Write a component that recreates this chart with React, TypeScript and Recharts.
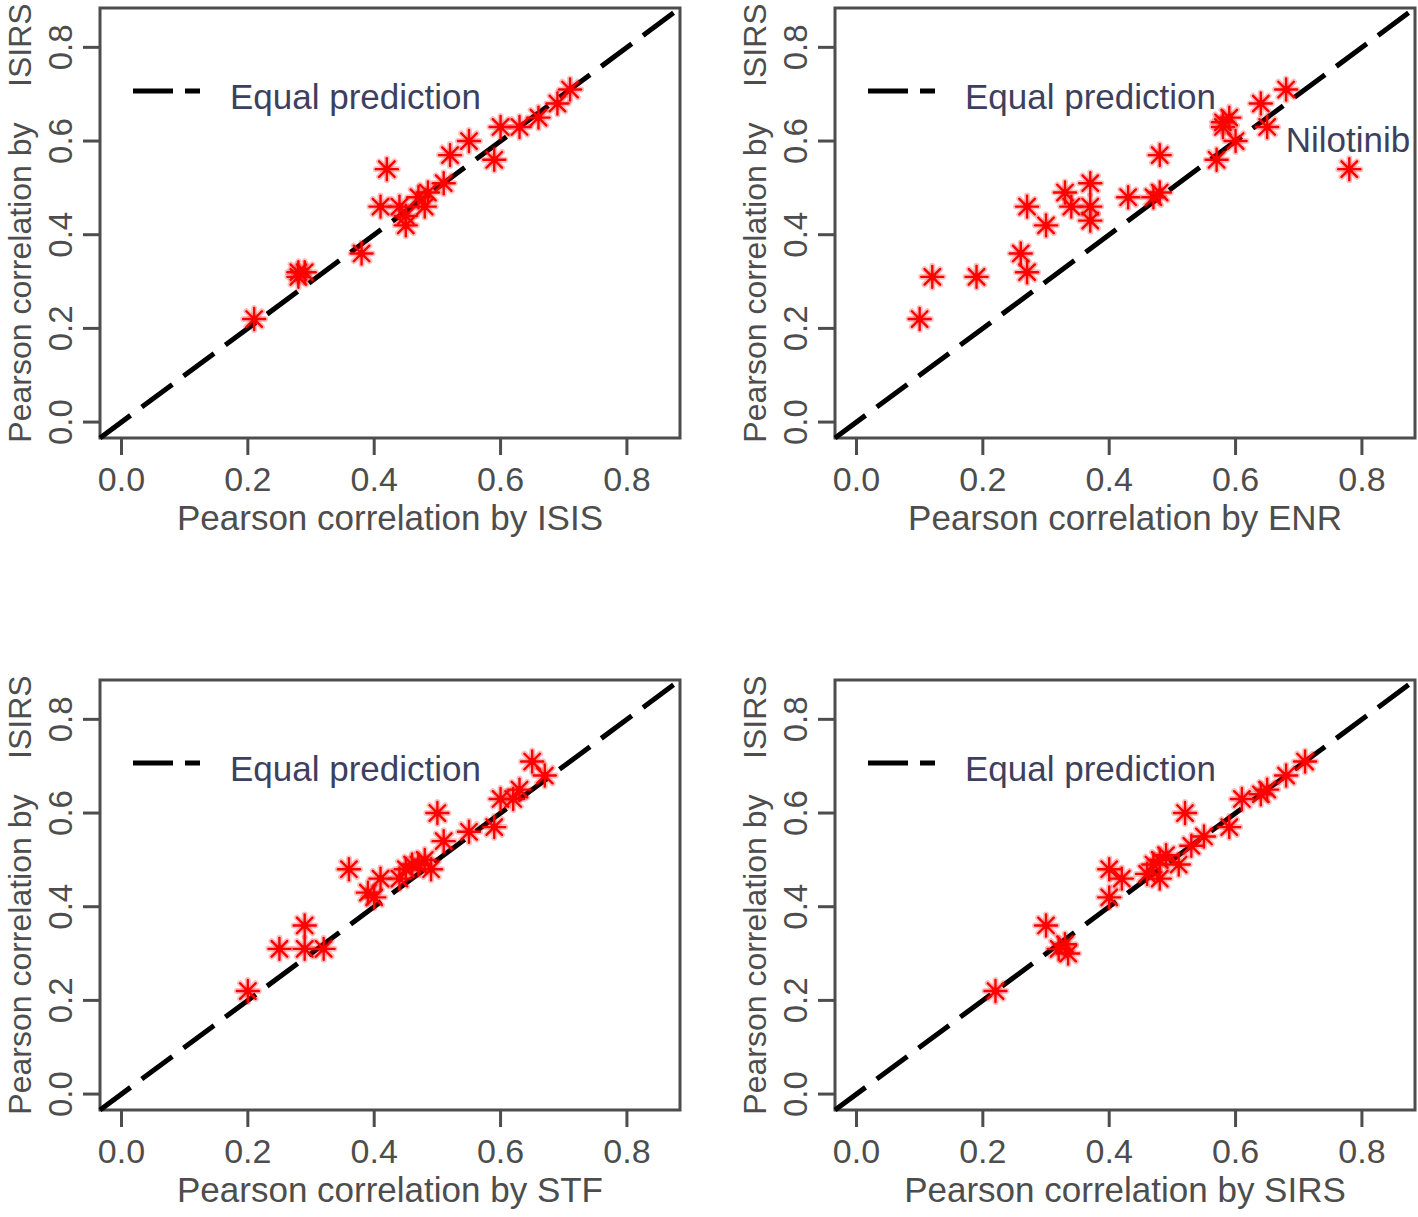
import {
  ReferenceArea,
  ReferenceLine,
  Scatter,
  ScatterChart,
  XAxis,
  YAxis,
} from "recharts";

const axisTicks = [0, 0.2, 0.4, 0.6, 0.8];
const axisLo = -0.034;
const axisHi = 0.884;

// ISIRS correlation (y) against each competing method (x)
const isisX = [0.21, 0.28, 0.29, 0.28, 0.38, 0.42, 0.41, 0.44, 0.45, 0.45, 0.47, 0.485, 0.48, 0.51, 0.52, 0.55, 0.59, 0.6, 0.63, 0.66, 0.69, 0.71];
const isirsVsIsis = [0.22, 0.32, 0.32, 0.31, 0.36, 0.54, 0.46, 0.46, 0.42, 0.44, 0.48, 0.49, 0.46, 0.51, 0.57, 0.6, 0.56, 0.63, 0.63, 0.65, 0.68, 0.71];

const enrX = [0.1, 0.12, 0.19, 0.26, 0.27, 0.27, 0.3, 0.33, 0.34, 0.37, 0.37, 0.37, 0.43, 0.47, 0.48, 0.48, 0.57, 0.58, 0.59, 0.58, 0.6, 0.64, 0.65, 0.68, 0.78];
const isirsVsEnr = [0.22, 0.31, 0.31, 0.36, 0.32, 0.46, 0.42, 0.49, 0.46, 0.51, 0.46, 0.43, 0.48, 0.48, 0.49, 0.57, 0.56, 0.63, 0.65, 0.64, 0.6, 0.68, 0.63, 0.71, 0.54];

const stfX = [0.2, 0.25, 0.29, 0.29, 0.32, 0.36, 0.39, 0.4, 0.41, 0.44, 0.45, 0.46, 0.47, 0.48, 0.49, 0.5, 0.51, 0.55, 0.59, 0.6, 0.62, 0.63, 0.65, 0.67];
const isirsVsStf = [0.22, 0.31, 0.36, 0.31, 0.31, 0.48, 0.43, 0.42, 0.46, 0.46, 0.48, 0.49, 0.49, 0.5, 0.48, 0.6, 0.54, 0.56, 0.57, 0.63, 0.63, 0.65, 0.71, 0.68];

const sirsX = [0.22, 0.3, 0.32, 0.33, 0.335, 0.4, 0.4, 0.42, 0.46, 0.47, 0.48, 0.48, 0.49, 0.51, 0.52, 0.53, 0.55, 0.59, 0.61, 0.64, 0.65, 0.68, 0.71];
const isirsVsSirs = [0.22, 0.36, 0.31, 0.32, 0.3, 0.42, 0.48, 0.46, 0.47, 0.49, 0.5, 0.46, 0.51, 0.49, 0.6, 0.53, 0.55, 0.57, 0.63, 0.64, 0.65, 0.68, 0.71];

const nilotinibLabel = [{ x: 0.778, y: 0.603, text: "Nilotinib" }];

const FONT = "'Liberation Sans', Arial, Helvetica, sans-serif";
const AXIS_GREY = "#4d4d4d";
const TEXT_NAVY = "#3e3f5e";

const toPoints = (xs: number[], ys: number[]) => xs.map((x, i) => ({ x, y: ys[i] }));

function Asterisk(props: any) {
  const { cx, cy } = props;
  if (cx == null || cy == null) return null;
  const r = 11;
  const d = r * 0.707;
  const rays = (
    <>
      <line x1={cx - r} y1={cy} x2={cx + r} y2={cy} />
      <line x1={cx} y1={cy - r} x2={cx} y2={cy + r} />
      <line x1={cx - d} y1={cy - d} x2={cx + d} y2={cy + d} />
      <line x1={cx - d} y1={cy + d} x2={cx + d} y2={cy - d} />
    </>
  );
  return (
    <g stroke="#ff0000" strokeLinecap="round">
      <g strokeWidth={6} strokeOpacity={0.25}>{rays}</g>
      <g strokeWidth={2.4}>{rays}</g>
      <circle cx={cx} cy={cy} r={3.6} fill="#ff0000" stroke="none" />
    </g>
  );
}

function PointLabel(props: any) {
  const { cx, cy, payload } = props;
  return (
    <text x={cx} y={cy} textAnchor="middle" dominantBaseline="central" fontSize={35} fontFamily={FONT} fill={TEXT_NAVY}>
      {payload.text}
    </text>
  );
}

function YTick(props: any) {
  const { x, y, payload } = props;
  return (
    <text x={x} y={y} transform={`rotate(-90, ${x}, ${y})`} textAnchor="middle" fontSize={33} fontFamily={FONT} fill={AXIS_GREY}>
      {Number(payload.value).toFixed(1)}
    </text>
  );
}

function YTitle(props: any) {
  const vb = props.viewBox;
  const x = vb.x + 31;
  const y = vb.y + vb.height / 2;
  return (
    <text x={x} y={y} transform={`rotate(-90, ${x}, ${y})`} textAnchor="middle" fontSize={32} fontFamily={FONT} fill={AXIS_GREY} style={{ whiteSpace: "pre" }}>
      {"Pearson correlation by    ISIRS"}
    </text>
  );
}

interface PanelProps {
  left: number;
  top: number;
  xTitle: string;
  points: { x: number; y: number }[];
  showNilotinib?: boolean;
}

function Panel({ left, top, xTitle, points, showNilotinib }: PanelProps) {
  return (
    <div style={{ position: "absolute", left, top, width: 700, height: 560 }}>
      <ScatterChart width={700} height={560} margin={{ top: 8, right: 20, bottom: 0, left: 0 }}>
        <XAxis
          type="number"
          dataKey="x"
          domain={[axisLo, axisHi]}
          ticks={axisTicks}
          allowDataOverflow
          tickFormatter={(v: number) => v.toFixed(1)}
          axisLine={false}
          tickSize={17}
          tickMargin={12}
          tickLine={{ stroke: AXIS_GREY, strokeWidth: 3 }}
          tick={{ fontSize: 34, fill: AXIS_GREY, fontFamily: FONT }}
          height={122}
          label={{ value: xTitle, position: "insideBottom", offset: 30, fontSize: 35, fill: AXIS_GREY, fontFamily: FONT }}
        />
        <YAxis
          type="number"
          dataKey="y"
          domain={[axisLo, axisHi]}
          ticks={axisTicks}
          allowDataOverflow
          axisLine={false}
          tickSize={17}
          tickMargin={11}
          tickLine={{ stroke: AXIS_GREY, strokeWidth: 3 }}
          tick={<YTick />}
          width={100}
          label={{ content: YTitle }}
        />
        <Scatter data={points} shape={<Asterisk />} isAnimationActive={false} />
        {showNilotinib && <Scatter data={nilotinibLabel} shape={<PointLabel />} isAnimationActive={false} />}
        <ReferenceLine
          segment={[{ x: axisLo, y: axisLo }, { x: axisHi, y: axisHi }]}
          stroke="#000"
          strokeWidth={5}
          strokeDasharray="38 14"
          ifOverflow="visible"
        />
        <ReferenceArea x1={axisLo} x2={axisHi} y1={axisLo} y2={axisHi} fill="none" fillOpacity={0} stroke={AXIS_GREY} strokeWidth={3} ifOverflow="visible" />
      </ScatterChart>
      <svg width={420} height={60} style={{ position: "absolute", left: 133, top: 60 }}>
        <line x1={0} y1={31} x2={67} y2={31} stroke="#000" strokeWidth={5} strokeDasharray="40 12" />
        <text x={97} y={49} fontSize={35} fontFamily={FONT} fill={TEXT_NAVY}>
          Equal prediction
        </text>
      </svg>
    </div>
  );
}

export default function App() {
  return (
    <div style={{ position: "absolute", left: 0, top: 0, width: 1418, height: 1217, background: "#fff" }}>
      <Panel left={0} top={0} xTitle="Pearson correlation by ISIS" points={toPoints(isisX, isirsVsIsis)} />
      <Panel left={735} top={0} xTitle="Pearson correlation by ENR" points={toPoints(enrX, isirsVsEnr)} showNilotinib />
      <Panel left={0} top={672} xTitle="Pearson correlation by STF" points={toPoints(stfX, isirsVsStf)} />
      <Panel left={735} top={672} xTitle="Pearson correlation by SIRS" points={toPoints(sirsX, isirsVsSirs)} />
    </div>
  );
}
